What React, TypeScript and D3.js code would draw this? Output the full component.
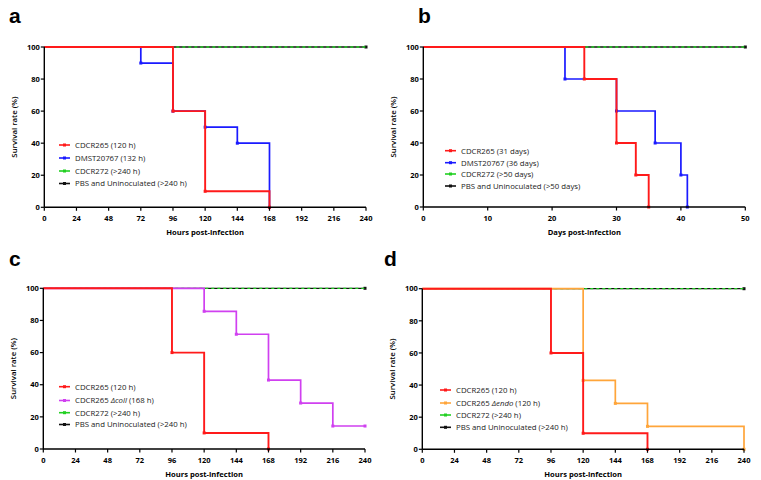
import React from "react";
import * as d3 from "d3";

// ---------- data ----------
const hourTicks = [0, 24, 48, 72, 96, 120, 144, 168, 192, 216, 240];
const dayTicks = [0, 10, 20, 30, 40, 50];
const yTicks = [0, 20, 40, 60, 80, 100];

// Panel a
const aRedT = [0, 96, 120, 168];
const aRedS = [100, 60, 10, 0];
const aBlueT = [0, 72, 96, 120, 144, 168];
const aBlueS = [100, 90, 60, 50, 40, 0];
const hCtrlT = [0, 240];
const hCtrlS = [100, 100];

// Panel b
const bRedT = [0, 25, 30, 33, 35];
const bRedS = [100, 80, 40, 20, 0];
const bBlueT = [0, 22, 30, 36, 40, 41];
const bBlueS = [100, 80, 60, 40, 20, 0];
const dCtrlT = [0, 50];
const dCtrlS = [100, 100];

// Panel c
const cRedT = [0, 96, 120, 168];
const cRedS = [100, 60, 10, 0];
const cCollT = [0, 120, 144, 168, 192, 216, 240];
const cCollS = [100, 85.7, 71.4, 42.9, 28.6, 14.3, 14.3];

// Panel d
const dRedT = [0, 96, 120, 168];
const dRedS = [100, 60, 10, 0];
const dEndoT = [0, 120, 144, 168, 240];
const dEndoS = [100, 42.9, 28.6, 14.3, 0];

const RED = "#ff1a1a";
const BLUE = "#1a1aff";
const GREEN = "#22d022";
const BLACK = "#111111";
const MAGENTA = "#d040f0";
const ORANGE = "#ffa53a";

type Series = { t: number[]; s: number[]; color: string; width: number; dash?: string };
type LegendItem = { color: string; parts: { text: string; italic?: boolean }[] };

type PanelProps = {
  letter: string;
  letterX: number;
  letterY: number;
  left: number;
  right: number;
  top: number;
  bottom: number;
  xMax: number;
  xTicks: number[];
  xTitle: string;
  series: Series[];
  legend: LegendItem[];
  legX: number;
  legRows: number[];
};

const FONT = "'Open Sans', 'Liberation Sans', Arial, sans-serif";

function Panel(p: PanelProps) {
  const x = d3.scaleLinear().domain([0, p.xMax]).range([p.left, p.right]);
  const y = d3.scaleLinear().domain([0, 100]).range([p.bottom, p.top]);
  const line = d3
    .line<[number, number]>()
    .x((d) => x(d[0]))
    .y((d) => y(d[1]))
    .curve(d3.curveStepAfter);
  return (
    <g>
      <text x={p.letterX} y={p.letterY} fontFamily="Arial, 'Liberation Sans', sans-serif" fontWeight="bold" fontSize={21}>
        {p.letter}
      </text>
      {/* series */}
      {p.series.map((sr, i) => {
        const pts: [number, number][] = sr.t.map((t, j) => [t, sr.s[j]]);
        return (
          <g key={i}>
            <path d={line(pts) || ""} fill="none" stroke={sr.color} strokeWidth={sr.width} strokeDasharray={sr.dash} />
            {!sr.dash &&
              pts.slice(1).map((d, j) => (
                <rect key={j} x={x(d[0]) - 1.5} y={y(d[1]) - 1.5} width={3} height={3} fill={sr.color} />
              ))}
          </g>
        );
      })}
      {/* axes */}
      <line x1={p.left} x2={p.right} y1={p.bottom} y2={p.bottom} stroke="#000" strokeWidth={1.4} />
      <line x1={p.left} x2={p.left} y1={p.top} y2={p.bottom} stroke="#000" strokeWidth={1.4} />
      {p.xTicks.map((t) => (
        <g key={t}>
          <line x1={x(t)} x2={x(t)} y1={p.bottom} y2={p.bottom + 3.5} stroke="#000" strokeWidth={1.2} />
          <text x={x(t)} y={p.bottom + 13.5} textAnchor="middle" fontFamily={FONT} fontWeight="bold" fontSize={7.5}>
            {t}
          </text>
        </g>
      ))}
      {yTicks.map((t) => (
        <g key={t}>
          <line x1={p.left - 3.5} x2={p.left} y1={y(t)} y2={y(t)} stroke="#000" strokeWidth={1.2} />
          <text x={p.left - 4.5} y={y(t) + 2.7} textAnchor="end" fontFamily={FONT} fontWeight="bold" fontSize={7.5}>
            {t}
          </text>
        </g>
      ))}
      <text
        x={(p.left + p.right) / 2}
        y={p.bottom + 27.5}
        textAnchor="middle"
        fontFamily={FONT}
        fontWeight="bold"
        fontSize={7.6}
      >
        {p.xTitle}
      </text>
      <text
        transform={`translate(${p.left - 27},${(p.top + p.bottom) / 2}) rotate(-90)`}
        textAnchor="middle"
        fontFamily={FONT}
        fontWeight={600}
        fontSize={7.8}
      >
        Survival rate (%)
      </text>
      {/* legend */}
      {p.legend.map((it, i) => {
        const cy = p.legRows[i];
        return (
          <g key={i}>
            <line x1={p.legX} x2={p.legX + 11} y1={cy} y2={cy} stroke={it.color} strokeWidth={1.6} />
            <rect x={p.legX + 4} y={cy - 1.5} width={3} height={3} fill={it.color} />
            <text x={p.legX + 16} y={cy + 2.8} fontFamily={FONT} fontSize={7.8} fill="#222">
              {it.parts.map((pt, k) => (
                <tspan key={k} fontStyle={pt.italic ? "italic" : "normal"}>
                  {pt.text}
                </tspan>
              ))}
            </text>
          </g>
        );
      })}
    </g>
  );
}

export default function App() {
  const ctrlH = (t: number[], s: number[]): Series[] => [
    { t, s, color: BLACK, width: 1.3 },
    { t, s, color: GREEN, width: 1.3, dash: "3,3" },
  ];
  const ctrlLegendH: LegendItem[] = [
    { color: GREEN, parts: [{ text: "CDCR272 (>240 h)" }] },
    { color: BLACK, parts: [{ text: "PBS and Uninoculated (>240 h)" }] },
  ];
  return (
    <svg
      width={761}
      height={480}
      style={{ position: "absolute", left: 0, top: 0, background: "#fff" }}
    >
      <rect width={761} height={480} fill="#fff" />
      <Panel
        letter="a"
        letterX={9}
        letterY={23}
        left={44.3}
        right={366}
        top={47}
        bottom={207.3}
        xMax={240}
        xTicks={hourTicks}
        xTitle="Hours post-infection"
        series={[
          ...ctrlH(hCtrlT, hCtrlS),
          { t: aBlueT, s: aBlueS, color: BLUE, width: 1.7 },
          { t: aRedT, s: aRedS, color: RED, width: 1.9 },
        ]}
        legend={[
          { color: RED, parts: [{ text: "CDCR265 (120 h)" }] },
          { color: BLUE, parts: [{ text: "DMST20767 (132 h)" }] },
          ...ctrlLegendH,
        ]}
        legX={59}
        legRows={[145, 158, 171, 183.5]}
      />
      <Panel
        letter="b"
        letterX={418}
        letterY={23}
        left={423.3}
        right={745.3}
        top={47}
        bottom={207}
        xMax={50}
        xTicks={dayTicks}
        xTitle="Days post-infection"
        series={[
          { t: dCtrlT, s: dCtrlS, color: BLACK, width: 1.3 },
          { t: dCtrlT, s: dCtrlS, color: GREEN, width: 1.3, dash: "3,3" },
          { t: bBlueT, s: bBlueS, color: BLUE, width: 1.7 },
          { t: bRedT, s: bRedS, color: RED, width: 1.9 },
        ]}
        legend={[
          { color: RED, parts: [{ text: "CDCR265 (31 days)" }] },
          { color: BLUE, parts: [{ text: "DMST20767 (36 days)" }] },
          { color: GREEN, parts: [{ text: "CDCR272 (>50 days)" }] },
          { color: BLACK, parts: [{ text: "PBS and Uninoculated (>50 days)" }] },
        ]}
        legX={445}
        legRows={[150.7, 162.7, 174, 186]}
      />
      <Panel
        letter="c"
        letterX={9}
        letterY={266}
        left={43.3}
        right={365}
        top={288.3}
        bottom={449}
        xMax={240}
        xTicks={hourTicks}
        xTitle="Hours post-infection"
        series={[
          ...ctrlH(hCtrlT, hCtrlS),
          { t: cCollT, s: cCollS, color: MAGENTA, width: 1.7 },
          { t: cRedT, s: cRedS, color: RED, width: 1.9 },
        ]}
        legend={[
          { color: RED, parts: [{ text: "CDCR265 (120 h)" }] },
          { color: MAGENTA, parts: [{ text: "CDCR265 " }, { text: "Δcoll", italic: true }, { text: " (168 h)" }] },
          ...ctrlLegendH,
        ]}
        legX={59}
        legRows={[386.7, 400.5, 412.7, 424.5]}
      />
      <Panel
        letter="d"
        letterX={384}
        letterY={266}
        left={422.3}
        right={744}
        top={288.7}
        bottom={449.3}
        xMax={240}
        xTicks={hourTicks}
        xTitle="Hours post-infection"
        series={[
          ...ctrlH(hCtrlT, hCtrlS),
          { t: dEndoT, s: dEndoS, color: ORANGE, width: 1.7 },
          { t: dRedT, s: dRedS, color: RED, width: 1.9 },
        ]}
        legend={[
          { color: RED, parts: [{ text: "CDCR265 (120 h)" }] },
          { color: ORANGE, parts: [{ text: "CDCR265 " }, { text: "Δendo", italic: true }, { text: " (120 h)" }] },
          ...ctrlLegendH,
        ]}
        legX={440}
        legRows={[390, 403, 415, 427.3]}
      />
    </svg>
  );
}
